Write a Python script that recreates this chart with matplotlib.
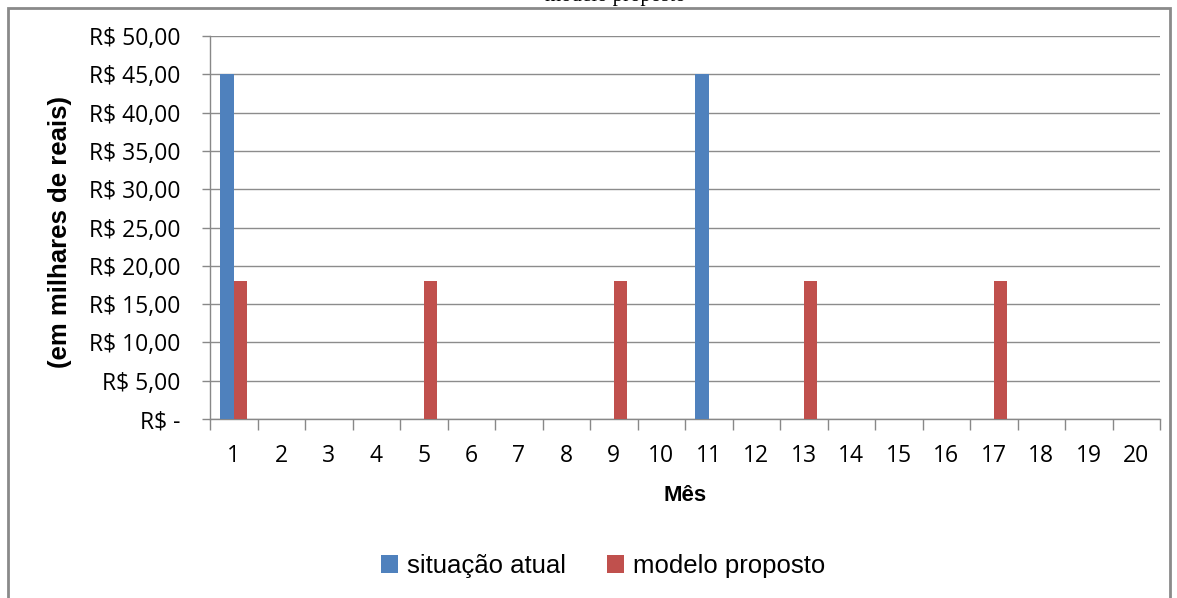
import matplotlib
matplotlib.use("Agg")
import matplotlib.pyplot as plt
import numpy as np
from matplotlib.patches import Rectangle

months = [str(i) for i in range(1, 21)]
situacao_atual = [45, 0, 0, 0, 0, 0, 0, 0, 0, 0, 45, 0, 0, 0, 0, 0, 0, 0, 0, 0]
modelo_proposto = [18, 0, 0, 0, 18, 0, 0, 0, 18, 0, 0, 0, 18, 0, 0, 0, 18, 0, 0, 0]
yticks = [0, 5, 10, 15, 20, 25, 30, 35, 40, 45, 50]
ytick_labels = ["R$ -", "R$ 5,00", "R$ 10,00", "R$ 15,00", "R$ 20,00", "R$ 25,00",
                "R$ 30,00", "R$ 35,00", "R$ 40,00", "R$ 45,00", "R$ 50,00"]

W, H = 1177, 598
fig = plt.figure(figsize=(W / 100, H / 100), dpi=100)
ax = fig.add_axes([210 / W, 1 - 419 / H, (1160 - 210) / W, (419 - 36) / H])

x = np.arange(len(months))
bw = 0.285
ax.bar(x - bw / 2, situacao_atual, bw, color="#4F81BD", label="situação atual", zorder=3)
ax.bar(x + bw / 2, modelo_proposto, bw, color="#C0504D", label="modelo proposto", zorder=3)

ax.set_xlim(-0.5, len(months) - 0.5)
ax.set_ylim(0, 50)
ax.set_yticks(yticks)
ax.set_yticklabels(ytick_labels, family="Open Sans", fontsize=16.5)
ax.set_xticks(x)
ax.set_xticklabels(months, family="Open Sans", fontsize=16.5)
ax.set_xticks(np.arange(-0.5, len(months)), minor=True)
ax.tick_params(axis="x", which="major", length=0, pad=18)
ax.tick_params(axis="x", which="minor", length=8, color="#888888", width=1)
ax.tick_params(axis="y", length=6, color="#888888", width=1, pad=15)
ax.yaxis.grid(True, color="#8c8c8c", linewidth=1, zorder=0)
ax.set_axisbelow(True)
for s in ["top", "right"]:
    ax.spines[s].set_visible(False)
for s in ["left", "bottom"]:
    ax.spines[s].set_color("#888888")
    ax.spines[s].set_linewidth(1)

ax.set_ylabel("(em milhares de reais)", family="Liberation Sans", fontweight="bold",
              fontsize=18.5)
ax.yaxis.set_label_coords((72 - 210) / 950, 0.488)
ax.set_xlabel("Mês", family="Liberation Sans", fontweight="bold", fontsize=16)
ax.xaxis.set_label_coords(0.5, -(485 - 419) / 383)

leg = fig.legend(loc="center", bbox_to_anchor=(603 / W, 1 - 566 / H), ncol=2,
                 frameon=False, prop={"family": "Liberation Sans", "size": 18.5},
                 handlelength=0.65, handleheight=0.65, handletextpad=0.35, columnspacing=1.6)

# outer chart border
fig.patches.append(Rectangle((8 / W, -0.05), (1170 - 8) / W, 1 - 8 / H + 0.05,
                             transform=fig.transFigure, fill=False,
                             edgecolor="#8a8a8a", linewidth=2))

# cut-off title at the top
fig.text(615 / W, 1 - 1 / H, "modelo proposto", family="Liberation Serif",
         fontsize=15, ha="center", va="baseline")

fig.savefig("out.png", dpi=100)
